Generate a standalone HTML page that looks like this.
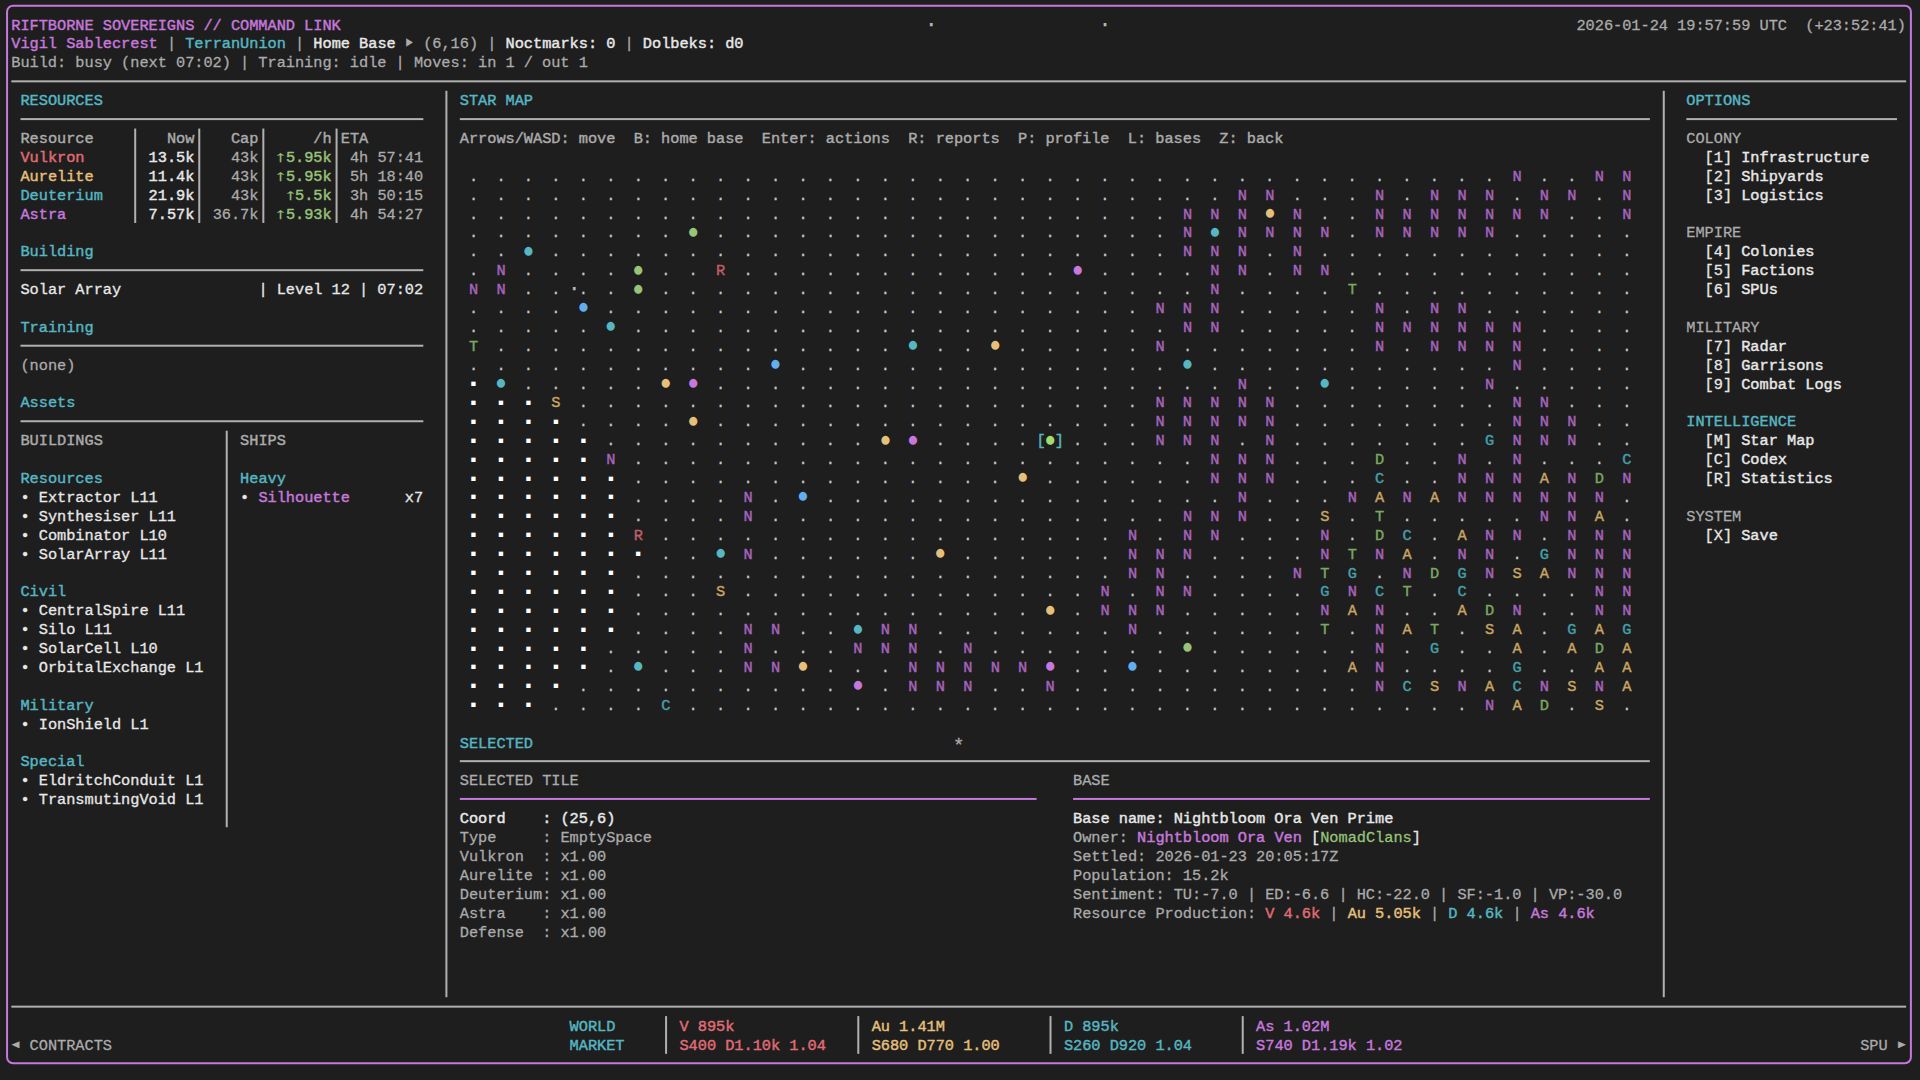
<!DOCTYPE html>
<html lang="en"><head><meta charset="utf-8"><title>Riftborne Sovereigns // Command Link</title>
<style>
html,body{margin:0;padding:0;background:#1e1e1e;}
body{width:1920px;height:1080px;overflow:hidden;position:relative;font-family:"Liberation Mono","DejaVu Sans Mono",monospace;}
#scr{position:absolute;left:0;top:0;width:1920px;height:1080px;overflow:hidden;color:#ababab;font-size:15.3px;letter-spacing:-0.0284px;-webkit-text-stroke:0.28px;}
.r{position:absolute;left:0;height:18.884px;line-height:18.884px;white-space:pre;}
.r span{position:absolute;top:0;}
.r .P{font-size:19px;letter-spacing:0;-webkit-text-stroke:0;transform:scaleY(1.1);} .r .Q{font-size:17.2px;letter-spacing:0;-webkit-text-stroke:0;}
.r .S1{font-size:21px;letter-spacing:0;transform:scaleX(0.78);top:-1px;} .r .S2,.r .S3{transform:scale(0.86,0.72);top:-1px;} .r .S6{font-size:20px;letter-spacing:0;top:-1px;} .r .S4{transform:scaleX(1.8);-webkit-text-stroke:0.15px;margin-left:-0.3px;}
.r .dot{top:0;} .r .ast{font-size:19px;letter-spacing:0;top:2px;margin-left:-1.1px;}
.B{-webkit-text-stroke:0.42px;} .M{-webkit-text-stroke:0.3px;}
.t{color:#ababab;} .w{color:#e8e8e8;} .m{color:#c678dd;} .c{color:#56b6c2;} .g{color:#98c379;}
.rr{color:#e06c75;} .y{color:#e5c07b;} .b{color:#61afef;}
.dn{color:#a864be;} .dy{color:#c8a564;} .dg{color:#7aa862;} .dc{color:#46a0aa;} .dr{color:#c05f68;}
.dn,.dy,.dg,.dc,.dr{-webkit-text-stroke:0.4px;}
.dot{color:#c6c6c6;} .sq{color:#ffffff;} .st{color:#b8b8b8;}
.sel{color:#a0dc6e;}
</style></head><body><div id="scr">
<svg width="1920" height="1080" viewBox="0 0 1920 1080" style="position:absolute;left:0;top:0"><rect x="7.06" y="5.80" width="1903.84" height="1057.50" rx="6" ry="6" fill="none" stroke="#c678dd" stroke-width="2.0"/><rect x="11.33" y="80.34" width="1894.79" height="2.0" fill="#b0b0b0"/><rect x="20.49" y="118.10" width="402.84" height="2.0" fill="#b0b0b0"/><rect x="20.49" y="269.18" width="402.84" height="2.0" fill="#b0b0b0"/><rect x="20.49" y="344.71" width="402.84" height="2.0" fill="#b0b0b0"/><rect x="20.49" y="420.25" width="402.84" height="2.0" fill="#b0b0b0"/><rect x="459.84" y="118.10" width="1190.00" height="2.0" fill="#b0b0b0"/><rect x="459.84" y="760.16" width="1190.00" height="2.0" fill="#b0b0b0"/><rect x="459.84" y="797.93" width="576.75" height="2.0" fill="#c678dd"/><rect x="1073.09" y="797.93" width="576.75" height="2.0" fill="#c678dd"/><rect x="1686.35" y="118.10" width="210.62" height="2.0" fill="#b0b0b0"/><rect x="11.33" y="1005.65" width="1894.79" height="2.0" fill="#b0b0b0"/><rect x="445.41" y="90.78" width="2.0" height="906.43" fill="#b0b0b0"/><rect x="1662.77" y="90.78" width="2.0" height="906.43" fill="#b0b0b0"/><rect x="134.20" y="128.55" width="2.0" height="94.42" fill="#b0b0b0"/><rect x="198.27" y="128.55" width="2.0" height="94.42" fill="#b0b0b0"/><rect x="262.34" y="128.55" width="2.0" height="94.42" fill="#b0b0b0"/><rect x="335.57" y="128.55" width="2.0" height="94.42" fill="#b0b0b0"/><rect x="225.73" y="430.69" width="2.0" height="396.56" fill="#b0b0b0"/><rect x="665.08" y="1016.09" width="2.0" height="37.77" fill="#b0b0b0"/><rect x="857.29" y="1016.09" width="2.0" height="37.77" fill="#b0b0b0"/><rect x="1049.51" y="1016.09" width="2.0" height="37.77" fill="#b0b0b0"/><rect x="1241.73" y="1016.09" width="2.0" height="37.77" fill="#b0b0b0"/></svg>
<div class="r" style="top:16.99px"><span class="m B" style="left:11.28px">RIFTBORNE SOVEREIGNS // COMMAND LINK</span><span class="st S6" style="left:925.17px">·</span><span class="st S6" style="left:1099.08px">·</span><span class="t" style="left:1576.46px">2026-01-24 19:57:59 UTC  (+23:52:41)</span></div>
<div class="r" style="top:34.99px"><span class="m B" style="left:11.28px">Vigil Sablecrest</span><span class="t" style="left:166.89px">|</span><span class="c B" style="left:185.19px">TerranUnion</span><span class="t" style="left:295.03px">|</span><span class="w B" style="left:313.34px">Home Base</span><span class="t S1" style="left:403.14px">▸</span><span class="t" style="left:423.17px">(6,16) |</span><span class="w B" style="left:505.55px">Noctmarks: 0</span><span class="t" style="left:624.54px">|</span><span class="w B" style="left:642.85px">Dolbeks: d0</span></div>
<div class="r" style="top:53.99px"><span class="t" style="left:11.28px">Build: busy (next 07:02) | Training: idle | Moves: in 1 / out 1</span></div>
<div class="r" style="top:91.99px"><span class="c B" style="left:20.44px">RESOURCES</span><span class="c B" style="left:459.79px">STAR MAP</span><span class="c B" style="left:1686.30px">OPTIONS</span></div>
<div class="r" style="top:129.99px"><span class="t B" style="left:20.44px">Resource</span><span class="t B" style="left:166.89px">Now</span><span class="t B" style="left:230.96px">Cap</span><span class="t B" style="left:313.34px">/h ETA</span><span class="t B" style="left:459.79px">Arrows/WASD: move  B: home base  Enter: actions  R: reports  P: profile  L: bases  Z: back</span><span class="t" style="left:1686.30px">COLONY</span></div>
<div class="r" style="top:148.99px"><span class="rr B" style="left:20.44px">Vulkron</span><span class="w B" style="left:148.58px">13.5k</span><span class="t" style="left:230.96px">43k</span><span class="g B S4" style="left:276.71px">↑</span><span class="g B" style="left:285.88px">5.95k</span><span class="t" style="left:349.95px">4h 57:41</span><span class="w" style="left:1704.61px">[1]</span><span class="w B" style="left:1741.22px">Infrastructure</span></div>
<div class="r" style="top:167.99px"><span class="y B" style="left:20.44px">Aurelite</span><span class="w B" style="left:148.58px">11.4k</span><span class="t" style="left:230.96px">43k</span><span class="g B S4" style="left:276.71px">↑</span><span class="g B" style="left:285.88px">5.95k</span><span class="t" style="left:349.95px">5h 18:40</span><span class="dot" style="left:468.94px">.  .  .  .  .  .  .  .  .  .  .  .  .  .  .  .  .  .  .  .  .  .  .  .  .  .  .  .  .  .  .  .  .  .  .  .  .  .</span><span class="dn" style="left:1512.39px">N</span><span class="dot" style="left:1539.85px">.  .</span><span class="dn" style="left:1594.77px">N  N</span><span class="w" style="left:1704.61px">[2]</span><span class="w B" style="left:1741.22px">Shipyards</span></div>
<div class="r" style="top:186.99px"><span class="c B" style="left:20.44px">Deuterium</span><span class="w B" style="left:148.58px">21.9k</span><span class="t" style="left:230.96px">43k</span><span class="g B S4" style="left:285.86px">↑</span><span class="g B" style="left:295.03px">5.5k</span><span class="t" style="left:349.95px">3h 50:15</span><span class="dot" style="left:468.94px">.  .  .  .  .  .  .  .  .  .  .  .  .  .  .  .  .  .  .  .  .  .  .  .  .  .  .  .</span><span class="dn" style="left:1237.80px">N  N</span><span class="dot" style="left:1292.72px">.  .  .</span><span class="dn" style="left:1375.10px">N</span><span class="dot" style="left:1402.55px">.</span><span class="dn" style="left:1430.01px">N  N  N</span><span class="dot" style="left:1512.39px">.</span><span class="dn" style="left:1539.85px">N  N</span><span class="dot" style="left:1594.77px">.</span><span class="dn" style="left:1622.23px">N</span><span class="w" style="left:1704.61px">[3]</span><span class="w B" style="left:1741.22px">Logistics</span></div>
<div class="r" style="top:205.99px"><span class="m B" style="left:20.44px">Astra</span><span class="w B" style="left:148.58px">7.57k</span><span class="t" style="left:212.65px">36.7k</span><span class="g B S4" style="left:276.71px">↑</span><span class="g B" style="left:285.88px">5.93k</span><span class="t" style="left:349.95px">4h 54:27</span><span class="dot" style="left:468.94px">.  .  .  .  .  .  .  .  .  .  .  .  .  .  .  .  .  .  .  .  .  .  .  .  .  .</span><span class="dn" style="left:1182.88px">N  N  N</span><span class="pl y P" style="left:1264.13px;top:-0.98px">●</span><span class="dn" style="left:1292.72px">N</span><span class="dot" style="left:1320.18px">.  .</span><span class="dn" style="left:1375.10px">N  N  N  N  N  N  N</span><span class="dot" style="left:1567.31px">.  .</span><span class="dn" style="left:1622.23px">N</span></div>
<div class="r" style="top:223.99px"><span class="dot" style="left:468.94px">.  .  .  .  .  .  .  .</span><span class="pl g P" style="left:687.49px;top:0.02px">●</span><span class="dot" style="left:716.07px">.  .  .  .  .  .  .  .  .  .  .  .  .  .  .  .  .</span><span class="dn" style="left:1182.88px">N</span><span class="pl c P" style="left:1209.21px;top:0.02px">●</span><span class="dn" style="left:1237.80px">N  N  N  N</span><span class="dot" style="left:1347.64px">.</span><span class="dn" style="left:1375.10px">N  N  N  N  N</span><span class="dot" style="left:1512.39px">.  .  .  .  .</span><span class="t" style="left:1686.30px">EMPIRE</span></div>
<div class="r" style="top:242.99px"><span class="c B" style="left:20.44px">Building</span><span class="dot" style="left:468.94px">.  .</span><span class="pl c P" style="left:522.73px;top:0.02px">●</span><span class="dot" style="left:551.32px">.  .  .  .  .  .  .  .  .  .  .  .  .  .  .  .  .  .  .  .  .  .  .</span><span class="dn" style="left:1182.88px">N  N  N</span><span class="dot" style="left:1265.26px">.</span><span class="dn" style="left:1292.72px">N</span><span class="dot" style="left:1320.18px">.  .  .  .  .  .  .  .  .  .  .  .</span><span class="w" style="left:1704.61px">[4]</span><span class="w B" style="left:1741.22px">Colonies</span></div>
<div class="r" style="top:261.99px"><span class="dot" style="left:468.94px">.</span><span class="dn" style="left:496.40px">N</span><span class="dot" style="left:523.86px">.  .  .  .</span><span class="pl g P" style="left:632.57px;top:0.02px">●</span><span class="dot" style="left:661.15px">.  .</span><span class="dr" style="left:716.07px">R</span><span class="dot" style="left:743.53px">.  .  .  .  .  .  .  .  .  .  .  .</span><span class="pl m P" style="left:1071.92px;top:0.02px">●</span><span class="dot" style="left:1100.50px">.  .  .  .</span><span class="dn" style="left:1210.34px">N  N</span><span class="dot" style="left:1265.26px">.</span><span class="dn" style="left:1292.72px">N  N</span><span class="dot" style="left:1347.64px">.  .  .  .  .  .  .  .  .  .  .</span><span class="w" style="left:1704.61px">[5]</span><span class="w B" style="left:1741.22px">Factions</span></div>
<div class="r" style="top:280.99px"><span class="w M" style="left:20.44px">Solar Array</span><span class="w M" style="left:258.42px">| Level 12 | 07:02</span><span class="dn" style="left:468.94px">N  N</span><span class="dot" style="left:523.86px">.  .</span><span class="st S6" style="left:568.20px">·</span><span class="dot" style="left:578.78px">.  .</span><span class="pl g P" style="left:632.57px;top:0.02px">●</span><span class="dot" style="left:661.15px">.  .  .  .  .  .  .  .  .  .  .  .  .  .  .  .  .  .  .  .</span><span class="dn" style="left:1210.34px">N</span><span class="dot" style="left:1237.80px">.  .  .  .</span><span class="dg" style="left:1347.64px">T</span><span class="dot" style="left:1375.10px">.  .  .  .  .  .  .  .  .  .</span><span class="w" style="left:1704.61px">[6]</span><span class="w B" style="left:1741.22px">SPUs</span></div>
<div class="r" style="top:299.99px"><span class="dot" style="left:468.94px">.  .  .  .</span><span class="pl b P" style="left:577.65px;top:-0.98px">●</span><span class="dot" style="left:606.23px">.  .  .  .  .  .  .  .  .  .  .  .  .  .  .  .  .  .  .  .</span><span class="dn" style="left:1155.42px">N  N  N</span><span class="dot" style="left:1237.80px">.  .  .  .  .</span><span class="dn" style="left:1375.10px">N</span><span class="dot" style="left:1402.55px">.</span><span class="dn" style="left:1430.01px">N  N</span><span class="dot" style="left:1484.93px">.  .  .  .  .  .</span></div>
<div class="r" style="top:318.99px"><span class="c B" style="left:20.44px">Training</span><span class="dot" style="left:468.94px">.  .  .  .  .</span><span class="pl c P" style="left:605.11px;top:-0.98px">●</span><span class="dot" style="left:633.69px">.  .  .  .  .  .  .  .  .  .  .  .  .  .  .  .  .  .  .  .</span><span class="dn" style="left:1182.88px">N  N</span><span class="dot" style="left:1237.80px">.  .  .  .  .</span><span class="dn" style="left:1375.10px">N  N  N  N  N  N</span><span class="dot" style="left:1539.85px">.  .  .  .</span><span class="t" style="left:1686.30px">MILITARY</span></div>
<div class="r" style="top:337.99px"><span class="dg" style="left:468.94px">T</span><span class="dot" style="left:496.40px">.  .  .  .  .  .  .  .  .  .  .  .  .  .  .</span><span class="pl c P" style="left:907.16px;top:-0.98px">●</span><span class="dot" style="left:935.75px">.  .</span><span class="pl y P" style="left:989.54px;top:-0.98px">●</span><span class="dot" style="left:1018.12px">.  .  .  .  .</span><span class="dn" style="left:1155.42px">N</span><span class="dot" style="left:1182.88px">.  .  .  .  .  .  .</span><span class="dn" style="left:1375.10px">N</span><span class="dot" style="left:1402.55px">.</span><span class="dn" style="left:1430.01px">N  N  N  N</span><span class="dot" style="left:1539.85px">.  .  .  .</span><span class="w" style="left:1704.61px">[7]</span><span class="w B" style="left:1741.22px">Radar</span></div>
<div class="r" style="top:356.99px"><span class="t" style="left:20.44px">(none)</span><span class="dot" style="left:468.94px">.  .  .  .  .  .  .  .  .  .  .</span><span class="pl b P" style="left:769.87px;top:-0.98px">●</span><span class="dot" style="left:798.45px">.  .  .  .  .  .  .  .  .  .  .  .  .  .</span><span class="pl c P" style="left:1181.76px;top:-0.98px">●</span><span class="dot" style="left:1210.34px">.  .  .  .  .  .  .  .  .  .  .</span><span class="dn" style="left:1512.39px">N</span><span class="dot" style="left:1539.85px">.  .  .  .</span><span class="w" style="left:1704.61px">[8]</span><span class="w B" style="left:1741.22px">Garrisons</span></div>
<div class="r" style="top:375.99px"><span class="sq Q" style="left:468.35px;top:0.49px">▪</span><span class="pl c P" style="left:495.27px;top:-0.98px">●</span><span class="dot" style="left:523.86px">.  .  .  .  .</span><span class="pl y P" style="left:660.03px;top:-0.98px">●</span><span class="pl m P" style="left:687.49px;top:-0.98px">●</span><span class="dot" style="left:716.07px">.  .  .  .  .  .  .  .  .  .  .  .  .  .  .  .  .  .  .</span><span class="dn" style="left:1237.80px">N</span><span class="dot" style="left:1265.26px">.  .</span><span class="pl c P" style="left:1319.05px;top:-0.98px">●</span><span class="dot" style="left:1347.64px">.  .  .  .  .</span><span class="dn" style="left:1484.93px">N</span><span class="dot" style="left:1512.39px">.  .  .  .  .</span><span class="w" style="left:1704.61px">[9]</span><span class="w B" style="left:1741.22px">Combat Logs</span></div>
<div class="r" style="top:393.99px"><span class="c B" style="left:20.44px">Assets</span><span class="sq Q" style="left:468.35px;top:1.49px">▪</span><span class="sq Q" style="left:495.81px;top:1.49px">▪</span><span class="sq Q" style="left:523.27px;top:1.49px">▪</span><span class="dy" style="left:551.32px">S</span><span class="dot" style="left:578.78px">.  .  .  .  .  .  .  .  .  .  .  .  .  .  .  .  .  .  .  .  .</span><span class="dn" style="left:1155.42px">N  N  N  N  N</span><span class="dot" style="left:1292.72px">.  .  .  .  .  .  .  .</span><span class="dn" style="left:1512.39px">N  N</span><span class="dot" style="left:1567.31px">.  .  .</span></div>
<div class="r" style="top:412.99px"><span class="sq Q" style="left:468.35px;top:1.49px">▪</span><span class="sq Q" style="left:495.81px;top:1.49px">▪</span><span class="sq Q" style="left:523.27px;top:1.49px">▪</span><span class="sq Q" style="left:550.73px;top:1.49px">▪</span><span class="dot" style="left:578.78px">.  .  .  .</span><span class="pl y P" style="left:687.49px;top:0.02px">●</span><span class="dot" style="left:716.07px">.  .  .  .  .  .  .  .  .  .  .  .  .  .  .  .</span><span class="dn" style="left:1155.42px">N  N  N  N  N</span><span class="dot" style="left:1292.72px">.  .  .  .  .  .  .  .</span><span class="dn" style="left:1512.39px">N  N  N</span><span class="dot" style="left:1594.77px">.  .</span><span class="c B" style="left:1686.30px">INTELLIGENCE</span></div>
<div class="r" style="top:431.99px"><span class="t B" style="left:20.44px">BUILDINGS</span><span class="t B" style="left:240.11px">SHIPS</span><span class="sq Q" style="left:468.35px;top:1.49px">▪</span><span class="sq Q" style="left:495.81px;top:1.49px">▪</span><span class="sq Q" style="left:523.27px;top:1.49px">▪</span><span class="sq Q" style="left:550.73px;top:1.49px">▪</span><span class="sq Q" style="left:578.19px;top:1.49px">▪</span><span class="dot" style="left:606.23px">.  .  .  .  .  .  .  .  .  .</span><span class="pl y P" style="left:879.70px;top:0.02px">●</span><span class="pl m P" style="left:907.16px;top:0.02px">●</span><span class="dot" style="left:935.75px">.  .  .  .</span><span class="c B" style="left:1036.43px">[</span><span class="pl sel P" style="left:1044.46px;top:0.02px">●</span><span class="c B" style="left:1054.74px">]</span><span class="dot" style="left:1073.04px">.  .  .</span><span class="dn" style="left:1155.42px">N  N  N</span><span class="dot" style="left:1237.80px">.</span><span class="dn" style="left:1265.26px">N</span><span class="dot" style="left:1292.72px">.  .  .  .  .  .  .</span><span class="dc" style="left:1484.93px">G</span><span class="dn" style="left:1512.39px">N  N  N</span><span class="dot" style="left:1594.77px">.  .</span><span class="w" style="left:1704.61px">[M]</span><span class="w B" style="left:1741.22px">Star Map</span></div>
<div class="r" style="top:450.99px"><span class="sq Q" style="left:468.35px;top:1.49px">▪</span><span class="sq Q" style="left:495.81px;top:1.49px">▪</span><span class="sq Q" style="left:523.27px;top:1.49px">▪</span><span class="sq Q" style="left:550.73px;top:1.49px">▪</span><span class="sq Q" style="left:578.19px;top:1.49px">▪</span><span class="dn" style="left:606.23px">N</span><span class="dot" style="left:633.69px">.  .  .  .  .  .  .  .  .  .  .  .  .  .  .  .  .  .  .  .  .</span><span class="dn" style="left:1210.34px">N  N  N</span><span class="dot" style="left:1292.72px">.  .  .</span><span class="dg" style="left:1375.10px">D</span><span class="dot" style="left:1402.55px">.  .</span><span class="dn" style="left:1457.47px">N</span><span class="dot" style="left:1484.93px">.</span><span class="dn" style="left:1512.39px">N</span><span class="dot" style="left:1539.85px">.  .  .</span><span class="dc" style="left:1622.23px">C</span><span class="w" style="left:1704.61px">[C]</span><span class="w B" style="left:1741.22px">Codex</span></div>
<div class="r" style="top:469.99px"><span class="c B" style="left:20.44px">Resources</span><span class="c B" style="left:240.11px">Heavy</span><span class="sq Q" style="left:468.35px;top:1.49px">▪</span><span class="sq Q" style="left:495.81px;top:1.49px">▪</span><span class="sq Q" style="left:523.27px;top:1.49px">▪</span><span class="sq Q" style="left:550.73px;top:1.49px">▪</span><span class="sq Q" style="left:578.19px;top:1.49px">▪</span><span class="sq Q" style="left:605.65px;top:1.49px">▪</span><span class="dot" style="left:633.69px">.  .  .  .  .  .  .  .  .  .  .  .  .  .</span><span class="pl y P" style="left:1017.00px;top:-0.98px">●</span><span class="dot" style="left:1045.58px">.  .  .  .  .  .</span><span class="dn" style="left:1210.34px">N  N  N</span><span class="dot" style="left:1292.72px">.  .  .</span><span class="dc" style="left:1375.10px">C</span><span class="dot" style="left:1402.55px">.  .</span><span class="dn" style="left:1457.47px">N  N  N</span><span class="dy" style="left:1539.85px">A</span><span class="dn" style="left:1567.31px">N</span><span class="dg" style="left:1594.77px">D</span><span class="dn" style="left:1622.23px">N</span><span class="w" style="left:1704.61px">[R]</span><span class="w B" style="left:1741.22px">Statistics</span></div>
<div class="r" style="top:488.99px"><span class="w S5" style="left:20.42px">•</span><span class="w M" style="left:38.74px">Extractor L11</span><span class="w S5" style="left:240.10px">•</span><span class="m B" style="left:258.42px">Silhouette</span><span class="w M" style="left:404.87px">x7</span><span class="sq Q" style="left:468.35px;top:0.49px">▪</span><span class="sq Q" style="left:495.81px;top:0.49px">▪</span><span class="sq Q" style="left:523.27px;top:0.49px">▪</span><span class="sq Q" style="left:550.73px;top:0.49px">▪</span><span class="sq Q" style="left:578.19px;top:0.49px">▪</span><span class="sq Q" style="left:605.65px;top:0.49px">▪</span><span class="dot" style="left:633.69px">.  .  .  .</span><span class="dn" style="left:743.53px">N</span><span class="dot" style="left:770.99px">.</span><span class="pl b P" style="left:797.33px;top:-0.98px">●</span><span class="dot" style="left:825.91px">.  .  .  .  .  .  .  .  .  .  .  .  .  .  .</span><span class="dn" style="left:1237.80px">N</span><span class="dot" style="left:1265.26px">.  .  .</span><span class="dn" style="left:1347.64px">N</span><span class="dy" style="left:1375.10px">A</span><span class="dn" style="left:1402.55px">N</span><span class="dy" style="left:1430.01px">A</span><span class="dn" style="left:1457.47px">N  N  N  N  N  N</span><span class="dot" style="left:1622.23px">.</span></div>
<div class="r" style="top:507.99px"><span class="w S5" style="left:20.42px">•</span><span class="w M" style="left:38.74px">Synthesiser L11</span><span class="sq Q" style="left:468.35px;top:0.49px">▪</span><span class="sq Q" style="left:495.81px;top:0.49px">▪</span><span class="sq Q" style="left:523.27px;top:0.49px">▪</span><span class="sq Q" style="left:550.73px;top:0.49px">▪</span><span class="sq Q" style="left:578.19px;top:0.49px">▪</span><span class="sq Q" style="left:605.65px;top:0.49px">▪</span><span class="dot" style="left:633.69px">.  .  .  .</span><span class="dn" style="left:743.53px">N</span><span class="dot" style="left:770.99px">.  .  .  .  .  .  .  .  .  .  .  .  .  .  .</span><span class="dn" style="left:1182.88px">N  N  N</span><span class="dot" style="left:1265.26px">.  .</span><span class="dy" style="left:1320.18px">S</span><span class="dot" style="left:1347.64px">.</span><span class="dg" style="left:1375.10px">T</span><span class="dot" style="left:1402.55px">.  .  .  .  .</span><span class="dn" style="left:1539.85px">N  N</span><span class="dy" style="left:1594.77px">A</span><span class="dot" style="left:1622.23px">.</span><span class="t" style="left:1686.30px">SYSTEM</span></div>
<div class="r" style="top:526.99px"><span class="w S5" style="left:20.42px">•</span><span class="w M" style="left:38.74px">Combinator L10</span><span class="sq Q" style="left:468.35px;top:0.49px">▪</span><span class="sq Q" style="left:495.81px;top:0.49px">▪</span><span class="sq Q" style="left:523.27px;top:0.49px">▪</span><span class="sq Q" style="left:550.73px;top:0.49px">▪</span><span class="sq Q" style="left:578.19px;top:0.49px">▪</span><span class="sq Q" style="left:605.65px;top:0.49px">▪</span><span class="dr" style="left:633.69px">R</span><span class="dot" style="left:661.15px">.  .  .  .  .  .  .  .  .  .  .  .  .  .  .  .  .</span><span class="dn" style="left:1127.96px">N</span><span class="dot" style="left:1155.42px">.</span><span class="dn" style="left:1182.88px">N  N</span><span class="dot" style="left:1237.80px">.  .  .</span><span class="dn" style="left:1320.18px">N</span><span class="dot" style="left:1347.64px">.</span><span class="dg" style="left:1375.10px">D</span><span class="dc" style="left:1402.55px">C</span><span class="dot" style="left:1430.01px">.</span><span class="dy" style="left:1457.47px">A</span><span class="dn" style="left:1484.93px">N  N</span><span class="dot" style="left:1539.85px">.</span><span class="dn" style="left:1567.31px">N  N  N</span><span class="w" style="left:1704.61px">[X]</span><span class="w B" style="left:1741.22px">Save</span></div>
<div class="r" style="top:545.99px"><span class="w S5" style="left:20.42px">•</span><span class="w M" style="left:38.74px">SolarArray L11</span><span class="sq Q" style="left:468.35px;top:0.49px">▪</span><span class="sq Q" style="left:495.81px;top:0.49px">▪</span><span class="sq Q" style="left:523.27px;top:0.49px">▪</span><span class="sq Q" style="left:550.73px;top:0.49px">▪</span><span class="sq Q" style="left:578.19px;top:0.49px">▪</span><span class="sq Q" style="left:605.65px;top:0.49px">▪</span><span class="sq Q" style="left:633.11px;top:0.49px">▪</span><span class="dot" style="left:661.15px">.  .</span><span class="pl c P" style="left:714.95px;top:-0.98px">●</span><span class="dn" style="left:743.53px">N</span><span class="dot" style="left:770.99px">.  .  .  .  .  .</span><span class="pl y P" style="left:934.62px;top:-0.98px">●</span><span class="dot" style="left:963.21px">.  .  .  .  .  .</span><span class="dn" style="left:1127.96px">N  N  N</span><span class="dot" style="left:1210.34px">.  .  .  .</span><span class="dn" style="left:1320.18px">N</span><span class="dg" style="left:1347.64px">T</span><span class="dn" style="left:1375.10px">N</span><span class="dy" style="left:1402.55px">A</span><span class="dot" style="left:1430.01px">.</span><span class="dn" style="left:1457.47px">N  N</span><span class="dot" style="left:1512.39px">.</span><span class="dc" style="left:1539.85px">G</span><span class="dn" style="left:1567.31px">N  N  N</span></div>
<div class="r" style="top:564.99px"><span class="sq Q" style="left:468.35px;top:0.49px">▪</span><span class="sq Q" style="left:495.81px;top:0.49px">▪</span><span class="sq Q" style="left:523.27px;top:0.49px">▪</span><span class="sq Q" style="left:550.73px;top:0.49px">▪</span><span class="sq Q" style="left:578.19px;top:0.49px">▪</span><span class="sq Q" style="left:605.65px;top:0.49px">▪</span><span class="dot" style="left:633.69px">.  .  .  .  .  .  .  .  .  .  .  .  .  .  .  .  .  .</span><span class="dn" style="left:1127.96px">N  N</span><span class="dot" style="left:1182.88px">.  .  .  .</span><span class="dn" style="left:1292.72px">N</span><span class="dg" style="left:1320.18px">T</span><span class="dc" style="left:1347.64px">G</span><span class="dot" style="left:1375.10px">.</span><span class="dn" style="left:1402.55px">N</span><span class="dg" style="left:1430.01px">D</span><span class="dc" style="left:1457.47px">G</span><span class="dn" style="left:1484.93px">N</span><span class="dy" style="left:1512.39px">S  A</span><span class="dn" style="left:1567.31px">N  N  N</span></div>
<div class="r" style="top:582.99px"><span class="c B" style="left:20.44px">Civil</span><span class="sq Q" style="left:468.35px;top:1.49px">▪</span><span class="sq Q" style="left:495.81px;top:1.49px">▪</span><span class="sq Q" style="left:523.27px;top:1.49px">▪</span><span class="sq Q" style="left:550.73px;top:1.49px">▪</span><span class="sq Q" style="left:578.19px;top:1.49px">▪</span><span class="sq Q" style="left:605.65px;top:1.49px">▪</span><span class="dot" style="left:633.69px">.  .  .</span><span class="dy" style="left:716.07px">S</span><span class="dot" style="left:743.53px">.  .  .  .  .  .  .  .  .  .  .  .  .</span><span class="dn" style="left:1100.50px">N</span><span class="dot" style="left:1127.96px">.</span><span class="dn" style="left:1155.42px">N  N</span><span class="dot" style="left:1210.34px">.  .  .  .</span><span class="dc" style="left:1320.18px">G</span><span class="dn" style="left:1347.64px">N</span><span class="dc" style="left:1375.10px">C</span><span class="dg" style="left:1402.55px">T</span><span class="dot" style="left:1430.01px">.</span><span class="dc" style="left:1457.47px">C</span><span class="dot" style="left:1484.93px">.  .  .  .</span><span class="dn" style="left:1594.77px">N  N</span></div>
<div class="r" style="top:601.99px"><span class="w S5" style="left:20.42px">•</span><span class="w M" style="left:38.74px">CentralSpire L11</span><span class="sq Q" style="left:468.35px;top:1.49px">▪</span><span class="sq Q" style="left:495.81px;top:1.49px">▪</span><span class="sq Q" style="left:523.27px;top:1.49px">▪</span><span class="sq Q" style="left:550.73px;top:1.49px">▪</span><span class="sq Q" style="left:578.19px;top:1.49px">▪</span><span class="sq Q" style="left:605.65px;top:1.49px">▪</span><span class="dot" style="left:633.69px">.  .  .  .  .  .  .  .  .  .  .  .  .  .  .</span><span class="pl y P" style="left:1044.46px;top:0.02px">●</span><span class="dot" style="left:1073.04px">.</span><span class="dn" style="left:1100.50px">N  N  N</span><span class="dot" style="left:1182.88px">.  .  .  .  .</span><span class="dn" style="left:1320.18px">N</span><span class="dy" style="left:1347.64px">A</span><span class="dn" style="left:1375.10px">N</span><span class="dot" style="left:1402.55px">.  .</span><span class="dy" style="left:1457.47px">A</span><span class="dg" style="left:1484.93px">D</span><span class="dn" style="left:1512.39px">N</span><span class="dot" style="left:1539.85px">.  .</span><span class="dn" style="left:1594.77px">N  N</span></div>
<div class="r" style="top:620.99px"><span class="w S5" style="left:20.42px">•</span><span class="w M" style="left:38.74px">Silo L11</span><span class="sq Q" style="left:468.35px;top:1.49px">▪</span><span class="sq Q" style="left:495.81px;top:1.49px">▪</span><span class="sq Q" style="left:523.27px;top:1.49px">▪</span><span class="sq Q" style="left:550.73px;top:1.49px">▪</span><span class="sq Q" style="left:578.19px;top:1.49px">▪</span><span class="sq Q" style="left:605.65px;top:1.49px">▪</span><span class="dot" style="left:633.69px">.  .  .  .</span><span class="dn" style="left:743.53px">N  N</span><span class="dot" style="left:798.45px">.  .</span><span class="pl c P" style="left:852.24px;top:0.02px">●</span><span class="dn" style="left:880.83px">N  N</span><span class="dot" style="left:935.75px">.  .  .  .  .  .  .</span><span class="dn" style="left:1127.96px">N</span><span class="dot" style="left:1155.42px">.  .  .  .  .  .</span><span class="dg" style="left:1320.18px">T</span><span class="dot" style="left:1347.64px">.</span><span class="dn" style="left:1375.10px">N</span><span class="dy" style="left:1402.55px">A</span><span class="dg" style="left:1430.01px">T</span><span class="dot" style="left:1457.47px">.</span><span class="dy" style="left:1484.93px">S  A</span><span class="dot" style="left:1539.85px">.</span><span class="dc" style="left:1567.31px">G</span><span class="dy" style="left:1594.77px">A</span><span class="dc" style="left:1622.23px">G</span></div>
<div class="r" style="top:639.99px"><span class="w S5" style="left:20.42px">•</span><span class="w M" style="left:38.74px">SolarCell L10</span><span class="sq Q" style="left:468.35px;top:1.49px">▪</span><span class="sq Q" style="left:495.81px;top:1.49px">▪</span><span class="sq Q" style="left:523.27px;top:1.49px">▪</span><span class="sq Q" style="left:550.73px;top:1.49px">▪</span><span class="sq Q" style="left:578.19px;top:1.49px">▪</span><span class="dot" style="left:606.23px">.  .  .  .  .</span><span class="dn" style="left:743.53px">N</span><span class="dot" style="left:770.99px">.  .  .</span><span class="dn" style="left:853.37px">N  N  N</span><span class="dot" style="left:935.75px">.</span><span class="dn" style="left:963.21px">N</span><span class="dot" style="left:990.66px">.  .  .  .  .  .  .</span><span class="pl g P" style="left:1181.76px;top:-0.98px">●</span><span class="dot" style="left:1210.34px">.  .  .  .  .  .</span><span class="dn" style="left:1375.10px">N</span><span class="dot" style="left:1402.55px">.</span><span class="dc" style="left:1430.01px">G</span><span class="dot" style="left:1457.47px">.  .</span><span class="dy" style="left:1512.39px">A</span><span class="dot" style="left:1539.85px">.</span><span class="dy" style="left:1567.31px">A</span><span class="dg" style="left:1594.77px">D</span><span class="dy" style="left:1622.23px">A</span></div>
<div class="r" style="top:658.99px"><span class="w S5" style="left:20.42px">•</span><span class="w M" style="left:38.74px">OrbitalExchange L1</span><span class="sq Q" style="left:468.35px;top:0.49px">▪</span><span class="sq Q" style="left:495.81px;top:0.49px">▪</span><span class="sq Q" style="left:523.27px;top:0.49px">▪</span><span class="sq Q" style="left:550.73px;top:0.49px">▪</span><span class="sq Q" style="left:578.19px;top:0.49px">▪</span><span class="dot" style="left:606.23px">.</span><span class="pl c P" style="left:632.57px;top:-0.98px">●</span><span class="dot" style="left:661.15px">.  .  .</span><span class="dn" style="left:743.53px">N  N</span><span class="pl y P" style="left:797.33px;top:-0.98px">●</span><span class="dot" style="left:825.91px">.  .  .</span><span class="dn" style="left:908.29px">N  N  N  N  N</span><span class="pl m P" style="left:1044.46px;top:-0.98px">●</span><span class="dot" style="left:1073.04px">.  .</span><span class="pl b P" style="left:1126.84px;top:-0.98px">●</span><span class="dot" style="left:1155.42px">.  .  .  .  .  .  .</span><span class="dy" style="left:1347.64px">A</span><span class="dn" style="left:1375.10px">N</span><span class="dot" style="left:1402.55px">.  .  .  .</span><span class="dc" style="left:1512.39px">G</span><span class="dot" style="left:1539.85px">.  .</span><span class="dy" style="left:1594.77px">A  A</span></div>
<div class="r" style="top:677.99px"><span class="sq Q" style="left:468.35px;top:0.49px">▪</span><span class="sq Q" style="left:495.81px;top:0.49px">▪</span><span class="sq Q" style="left:523.27px;top:0.49px">▪</span><span class="sq Q" style="left:550.73px;top:0.49px">▪</span><span class="dot" style="left:578.78px">.  .  .  .  .  .  .  .  .  .</span><span class="pl m P" style="left:852.24px;top:-0.98px">●</span><span class="dot" style="left:880.83px">.</span><span class="dn" style="left:908.29px">N  N  N</span><span class="dot" style="left:990.66px">.  .</span><span class="dn" style="left:1045.58px">N</span><span class="dot" style="left:1073.04px">.  .  .  .  .  .  .  .  .  .  .</span><span class="dn" style="left:1375.10px">N</span><span class="dc" style="left:1402.55px">C</span><span class="dy" style="left:1430.01px">S</span><span class="dn" style="left:1457.47px">N</span><span class="dy" style="left:1484.93px">A</span><span class="dc" style="left:1512.39px">C</span><span class="dn" style="left:1539.85px">N</span><span class="dy" style="left:1567.31px">S</span><span class="dn" style="left:1594.77px">N</span><span class="dy" style="left:1622.23px">A</span></div>
<div class="r" style="top:696.99px"><span class="c B" style="left:20.44px">Military</span><span class="sq Q" style="left:468.35px;top:0.49px">▪</span><span class="sq Q" style="left:495.81px;top:0.49px">▪</span><span class="sq Q" style="left:523.27px;top:0.49px">▪</span><span class="dot" style="left:551.32px">.  .  .  .</span><span class="dc" style="left:661.15px">C</span><span class="dot" style="left:688.61px">.  .  .  .  .  .  .  .  .  .  .  .  .  .  .  .  .  .  .  .  .  .  .  .  .  .  .  .  .</span><span class="dn" style="left:1484.93px">N</span><span class="dy" style="left:1512.39px">A</span><span class="dg" style="left:1539.85px">D</span><span class="dot" style="left:1567.31px">.</span><span class="dy" style="left:1594.77px">S</span><span class="dot" style="left:1622.23px">.</span></div>
<div class="r" style="top:715.99px"><span class="w S5" style="left:20.42px">•</span><span class="w M" style="left:38.74px">IonShield L1</span></div>
<div class="r" style="top:734.99px"><span class="c B" style="left:459.79px">SELECTED</span><span class="t ast" style="left:954.05px">*</span></div>
<div class="r" style="top:752.99px"><span class="c B" style="left:20.44px">Special</span></div>
<div class="r" style="top:771.99px"><span class="w S5" style="left:20.42px">•</span><span class="w M" style="left:38.74px">EldritchConduit L1</span><span class="t M" style="left:459.79px">SELECTED TILE</span><span class="t M" style="left:1073.04px">BASE</span></div>
<div class="r" style="top:790.99px"><span class="w S5" style="left:20.42px">•</span><span class="w M" style="left:38.74px">TransmutingVoid L1</span></div>
<div class="r" style="top:809.99px"><span class="w B" style="left:459.79px">Coord</span><span class="w B" style="left:542.16px">: (25,6)</span><span class="w B" style="left:1073.04px">Base name: Nightbloom Ora Ven Prime</span></div>
<div class="r" style="top:828.99px"><span class="t" style="left:459.79px">Type</span><span class="t" style="left:542.16px">: EmptySpace</span><span class="t" style="left:1073.04px">Owner:</span><span class="m B" style="left:1137.11px">Nightbloom Ora Ven</span><span class="w" style="left:1311.02px">[</span><span class="g" style="left:1320.18px">NomadClans</span><span class="w" style="left:1411.71px">]</span></div>
<div class="r" style="top:847.99px"><span class="t" style="left:459.79px">Vulkron  : x1.00</span><span class="t" style="left:1073.04px">Settled: 2026-01-23 20:05:17Z</span></div>
<div class="r" style="top:866.99px"><span class="t" style="left:459.79px">Aurelite : x1.00</span><span class="t" style="left:1073.04px">Population: 15.2k</span></div>
<div class="r" style="top:885.99px"><span class="t" style="left:459.79px">Deuterium: x1.00</span><span class="t" style="left:1073.04px">Sentiment: TU:-7.0 | ED:-6.6 | HC:-22.0 | SF:-1.0 | VP:-30.0</span></div>
<div class="r" style="top:904.99px"><span class="t" style="left:459.79px">Astra</span><span class="t" style="left:542.16px">: x1.00</span><span class="t" style="left:1073.04px">Resource Production:</span><span class="rr B" style="left:1265.26px">V 4.6k</span><span class="t" style="left:1329.33px">|</span><span class="y B" style="left:1347.64px">Au 5.05k</span><span class="t" style="left:1430.01px">|</span><span class="c B" style="left:1448.32px">D 4.6k</span><span class="t" style="left:1512.39px">|</span><span class="m B" style="left:1530.70px">As 4.6k</span></div>
<div class="r" style="top:923.99px"><span class="t" style="left:459.79px">Defense  : x1.00</span></div>
<div class="r" style="top:1017.99px"><span class="c B" style="left:569.62px">WORLD</span><span class="rr B" style="left:679.46px">V 895k</span><span class="y B" style="left:871.67px">Au 1.41M</span><span class="c B" style="left:1063.89px">D 895k</span><span class="m B" style="left:1256.10px">As 1.02M</span></div>
<div class="r" style="top:1036.99px"><span class="t ar S3" style="left:11.27px">◄</span><span class="t" style="left:29.59px">CONTRACTS</span><span class="c B" style="left:569.62px">MARKET</span><span class="rr B" style="left:679.46px">S400 D1.10k 1.04</span><span class="y B" style="left:871.67px">S680 D770 1.00</span><span class="c B" style="left:1063.89px">S260 D920 1.04</span><span class="m B" style="left:1256.10px">S740 D1.19k 1.02</span><span class="t" style="left:1860.21px">SPU</span><span class="t ar S2" style="left:1896.81px">►</span></div>
</div></body></html>
